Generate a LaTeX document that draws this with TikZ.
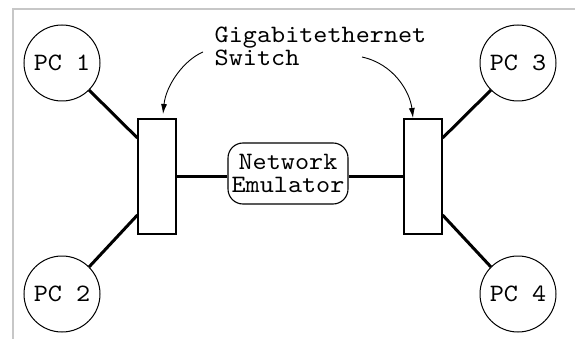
\documentclass[tikz,border=0pt]{standalone}
\usepackage{fontspec}
\usetikzlibrary{arrows.meta}
\newfontfamily\diagtt{lmmono10-regular.otf}[FakeStretch=1.075]
\newcommand{\diagfont}[2]{\diagtt\fontsize{#1}{#2}\selectfont}
\begin{document}
\begin{tikzpicture}[x=1pt,y=-1pt,
  pc/.style={circle,draw,line width=1pt,minimum size=76pt,inner sep=0pt,font=\diagfont{25}{23}},
  swbox/.style={draw,line width=1.1pt,minimum width=38pt,minimum height=115pt,inner sep=0pt},
  emubox/.style={draw,line width=1.1pt,rounded corners=15pt,minimum width=120pt,minimum height=61pt,inner sep=0pt,align=center,font=\diagfont{25}{23}},
  link/.style={line width=3pt},
  pointer/.style={line width=0.9pt,-{Latex[length=10pt,width=6pt]}},
  lbl/.style={align=left,inner sep=0pt,font=\diagfont{25}{23.5}}]
\useasboundingbox (0,0) rectangle (575,339);
\draw[line width=2pt,color=black!22] (12.5,339) -- (12.5,9.5) -- (575,9.5);
\node[pc] (pc1) at (62,63) {PC 1};
\node[pc] (pc2) at (62,294) {PC 2};
\node[pc] (pc3) at (518,63) {PC 3};
\node[pc] (pc4) at (518,294) {PC 4};
\node[swbox] (sw1) at (157,176.5) {};
\node[swbox] (sw2) at (423,176.5) {};
\node[emubox] (emu) at (288,173.5) {Network\\Emulator};
\node[lbl,anchor=base west] (lab) at (214.5,66) {Gigabitethernet\\Switch};
\draw[link] (pc1.-45) -- ([yshift=38.5pt]sw1.west);
\draw[link] (pc2.45) -- ([yshift=-38.5pt]sw1.west);
\draw[link] (pc3.-135) -- ([yshift=38.5pt]sw2.east);
\draw[link] (pc4.135) -- ([yshift=-38.5pt]sw2.east);
\draw[link] (sw1.east) -- (sw1.east -| emu.west);
\draw[link] (sw2.west) -- (sw2.west -| emu.east);
\coordinate (a1) at (203,52);
\coordinate (t1) at (163,114);
\coordinate (a2) at (362,57);
\coordinate (t2) at (413,118);
\draw[pointer] (a1) .. controls (184,60) and (166,85) .. (t1);
\draw[pointer] (a2) .. controls (394,64) and (410,92) .. (t2);
\end{tikzpicture}
\end{document}
